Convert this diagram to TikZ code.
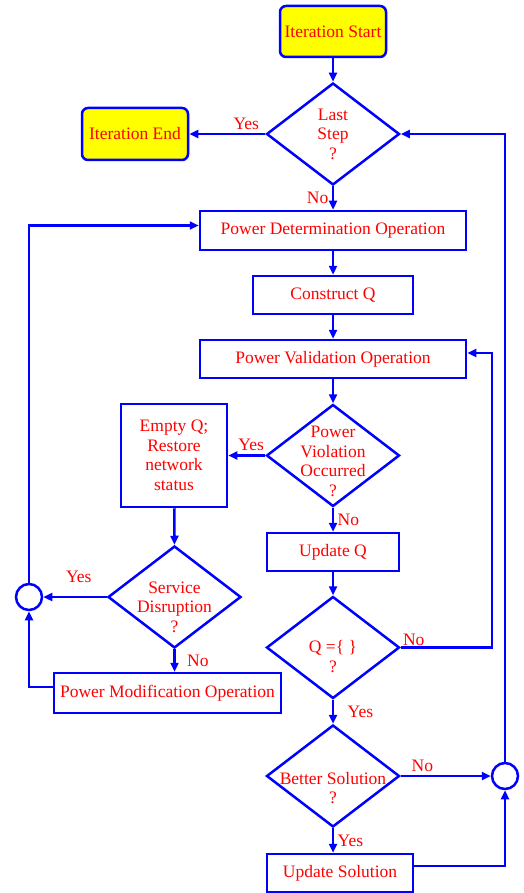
\documentclass[tikz,border=0pt]{standalone}
\usepackage{fontspec}
\setmainfont{Liberation Serif}
\usepackage{xcolor}
\definecolor{flowBlue}{RGB}{0,0,255}
\definecolor{flowRed}{RGB}{255,0,0}
\definecolor{termFill}{RGB}{255,255,0}
\usepackage{tikz}
\usetikzlibrary{shapes.geometric,arrows.meta}
\newcommand{\flowFont}{\fontsize{17.5}{19.5}\selectfont}
\tikzset{%
  terminalBox/.style={%
    rectangle,
    rounded corners=6pt,
    draw=flowBlue,
    line width=2.5pt,
    fill=termFill,
    text=flowRed,
    font=\flowFont,
    minimum width=106pt,
    minimum height=51pt,
    align=center
  },
  processBox/.style={%
    rectangle,
    draw=flowBlue,
    line width=2.5pt,
    fill=white,
    text=flowRed,
    font=\flowFont,
    minimum height=38pt,
    align=center
  },
  decisionBox/.style={%
    diamond,
    draw=flowBlue,
    line width=2.5pt,
    inner sep=0pt,
    minimum width=133pt,
    minimum height=102pt
  },
  joinCircle/.style={%
    circle,
    draw=flowBlue,
    line width=2.5pt,
    inner sep=0pt,
    minimum size=26pt
  },
  arrowLine/.style={%
    -{Triangle[length=9pt,width=8pt]},
    line width=2.6pt,
    color=flowBlue
  },
  labelText/.style={%
    text=flowRed,
    font=\flowFont,
    align=center
  }
}

\begin{document}
\begin{tikzpicture}[x=1pt,y=-1pt]
  \useasboundingbox (0,0) rectangle (523,893);

  % main column
  \node[terminalBox] (start) at (333,31.5) {Iteration Start};
  \node[decisionBox, label={[labelText]center:{Last\\Step\\?}}] (last) at (333,134) {};
  \node[terminalBox, minimum height=52pt] (iterend) at (135,134) {Iteration End};
  \node[processBox, minimum width=266pt, minimum height=39pt] (pdo) at (333,230.5) {Power Determination Operation};
  \node[processBox, minimum width=160pt] (cq) at (333,295) {Construct Q};
  \node[processBox, minimum width=266pt] (pvo) at (333,359) {Power Validation Operation};
  \node[decisionBox, label={[labelText, yshift=-6pt]center:{Power\\Violation\\Occurred\\?}}] (viol) at (333,455.5) {};
  \node[processBox, minimum width=132pt] (updq) at (333,552) {Update Q};
  \node[decisionBox, label={[labelText, yshift=-9pt]center:{Q =\{ \}\\?}}] (qempty) at (333,647.5) {};
  \node[decisionBox, label={[labelText, yshift=-12pt]center:{Better Solution\\?}}] (better) at (333,776) {};
  \node[processBox, minimum width=146pt] (updsol) at (340,873) {Update Solution};
  \node[joinCircle] (joinr) at (505,776) {};

  % left branch
  \node[processBox, minimum width=106pt, minimum height=103pt] (emptyq) at (174,455.5) {Empty Q;\\Restore\\network\\status};
  \node[decisionBox, label={[labelText, yshift=-10pt]center:{Service\\Disruption\\?}}] (disrupt) at (174.5,597) {};
  \node[processBox, minimum width=227pt, minimum height=40pt] (pmo) at (167.5,693) {Power Modification Operation};
  \node[joinCircle] (joinl) at (29,597) {};

  \draw[arrowLine] (start) -- (last);
  \draw[arrowLine] (last.west) -- node[labelText, above, pos=0.25]{Yes} (iterend.east);
  \draw[arrowLine] (last.south) -- node[labelText, left]{No} (pdo.north);
  \draw[arrowLine] (pdo) -- (cq);
  \draw[arrowLine] (cq) -- (pvo);
  \draw[arrowLine] (pvo) -- (viol.north);
  \draw[arrowLine] (viol.west) -- node[labelText, above, pos=0.38]{Yes} (emptyq.east);
  \draw[arrowLine] (viol.south) -- node[labelText, right]{No} (updq.north);
  \draw[arrowLine] (updq) -- (qempty.north);
  \draw[arrowLine] (qempty.east) node[labelText, above right, inner sep=1pt]{No} -- (492,647.5) |- ([yshift=6pt]pvo.east);
  \draw[arrowLine] (qempty.south) -- node[labelText, right=10pt]{Yes} (better.north);
  \draw[arrowLine] (better.east) -- node[labelText, above, pos=0.24]{No} (joinr.west);
  \draw[arrowLine] (better.south) -- node[labelText, right]{Yes} (better.south |- updsol.north);
  \draw[arrowLine] ([yshift=7pt]updsol.east) -| (joinr.south);
  \draw[arrowLine] (joinr.north) |- (last.east);

  \draw[arrowLine] (emptyq) -- (disrupt.north);
  \draw[arrowLine] (disrupt.west) -- node[labelText, above=10pt, pos=0.44]{Yes} (joinl.east);
  \draw[arrowLine] (disrupt.south) -- node[labelText, right=8pt]{No} (disrupt.south |- pmo.north);
  \draw[arrowLine] ([yshift=6pt]pmo.west) -| (joinl.south);
  \draw[arrowLine] (joinl.north) |- ([yshift=5pt]pdo.west);
\end{tikzpicture}
\end{document}
